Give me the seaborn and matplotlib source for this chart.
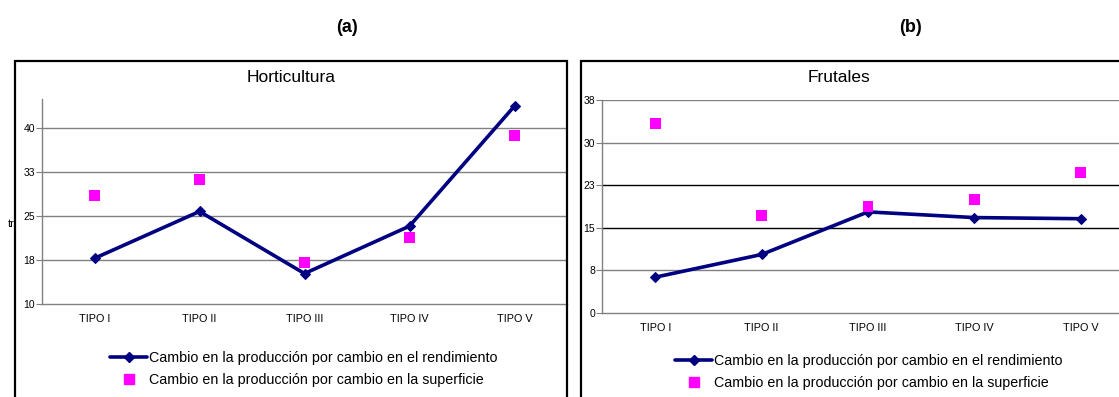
import matplotlib
matplotlib.use("Agg")
import matplotlib.pyplot as plt
import seaborn as sns
import pandas as pd
from matplotlib.lines import Line2D
from matplotlib.patches import Rectangle

# ---- data ----
categories = ["TIPO I", "TIPO II", "TIPO III", "TIPO IV", "TIPO V"]
horti_rendimiento = [17.8, 25.8, 15.2, 23.3, 43.8]
horti_superficie = [28.5, 31.2, 17.1, 21.4, 38.8]
frut_rendimiento = [6.3, 10.3, 17.8, 16.8, 16.6]
frut_superficie = [33.4, 17.2, 18.8, 20.0, 24.8]
horti_yticks = [10, 17.5, 25, 32.5, 40]
horti_ylabels = ["10", "18", "25", "33", "40"]
frut_yticks = [0, 7.5, 15, 22.5, 30, 37.5]
frut_ylabels = ["0", "8", "15", "23", "30", "38"]
label_rend = "Cambio en la producción por cambio en el rendimiento"
label_sup = "Cambio en la producción por cambio en la superficie"

sns.set_theme(style="white")
plt.rcParams["font.family"] = ["Liberation Sans", "DejaVu Sans"]
plt.rcParams["text.color"] = "black"
plt.rcParams["xtick.labelcolor"] = "black"
plt.rcParams["ytick.labelcolor"] = "black"
plt.rcParams["legend.labelcolor"] = "black"

W, H = 1119, 397
fig = plt.figure(figsize=(W / 100, H / 100), dpi=100)
fig.patch.set_facecolor("white")


def fx(px):
    return px / W


def fy(py):
    return 1 - py / H


NAVY = "#000080"
MAG = "#FF00FF"

# frames
for x0, x1 in [(15, 567), (581, 1140)]:
    fig.patches.append(Rectangle((fx(x0), fy(420)), fx(x1 - x0), (420 - 61) / H,
                                 transform=fig.transFigure, fill=False,
                                 edgecolor="black", linewidth=1.6, zorder=0))


def panel(left, right, top, bottom, rend, sup, yticks, ylabels, ylim, title, title_x,
          black_grid=()):
    ax = fig.add_axes([fx(left), fy(bottom), fx(right - left), (bottom - top) / H])
    ax.set_facecolor("none")
    df = pd.DataFrame({"cat": categories, "rend": rend, "sup": sup})
    sns.lineplot(data=df, x="cat", y="rend", ax=ax, color=NAVY, linewidth=2.6,
                 marker="D", markersize=5, markeredgecolor=NAVY, sort=False, zorder=3)
    sns.scatterplot(data=df, x="cat", y="sup", ax=ax, color=MAG, marker="s", s=60,
                    edgecolor="none", zorder=4)
    ax.set_xlim(-0.5, 4.5)
    ax.set_ylim(*ylim)
    ax.set_yticks(yticks)
    ax.set_yticklabels(ylabels, fontsize=7.5, color="black")
    for yv in yticks[1:]:
        col = "black" if yv in black_grid else "#808080"
        ax.axhline(yv, color=col, linewidth=1.0, zorder=1)
    ax.set_xticks([i - 0.5 for i in range(6)])
    ax.set_xticklabels([])
    ax.set_xticks(range(5), minor=True)
    ax.set_xticklabels(categories, minor=True, fontsize=7.8, color="black")
    ax.tick_params(axis="x", which="minor", length=0, pad=7)
    ax.tick_params(axis="x", which="major", length=3, direction="inout", color="black", width=0.8)
    ax.tick_params(axis="y", length=4, direction="out", color="#808080", width=0.8, pad=1)
    ax.tick_params(axis="y", which="major", left=True)
    for s in ["top", "right"]:
        ax.spines[s].set_visible(False)
    ax.spines["left"].set_color("#808080")
    ax.spines["bottom"].set_color("#808080")
    ax.spines["left"].set_linewidth(1.0)
    ax.spines["bottom"].set_linewidth(1.0)
    ax.set_xlabel("")
    ax.set_ylabel("")
    fig.text(fx(title_x), fy(78), title, ha="center", va="center", fontsize=12.5,
             color="black")
    return ax


ax1 = panel(42, 567, 99, 304, horti_rendimiento, horti_superficie, horti_yticks,
            horti_ylabels, (10, 45), "Horticultura", 291)
ax2 = panel(602, 1134, 100, 313, frut_rendimiento, frut_superficie, frut_yticks,
            frut_ylabels, (0, 37.5), "Frutales", 839, black_grid=(15, 22.5))

fig.text(fx(347), fy(28), "(a)", ha="center", va="center", fontsize=13, fontweight="bold")
fig.text(fx(910), fy(28), "(b)", ha="center", va="center", fontsize=13, fontweight="bold")
fig.text(fx(8), fy(224), "tr", ha="left", va="center", fontsize=8)

handles = [Line2D([0], [0], color=NAVY, linewidth=2.6, marker="D", markersize=5),
           Line2D([0], [0], color=MAG, linestyle="none", marker="s", markersize=7.5)]
for lx, ly in [(110, 369), (675, 372)]:
    fig.legend(handles, [label_rend, label_sup], loc="center left",
               bbox_to_anchor=(fx(lx), fy(ly)), frameon=False, fontsize=10.3,
               handlelength=2.6, handletextpad=0.1, labelspacing=0.6,
               borderpad=0, borderaxespad=0, labelcolor="black")

fig.savefig("out.png", dpi=100, facecolor="white")
